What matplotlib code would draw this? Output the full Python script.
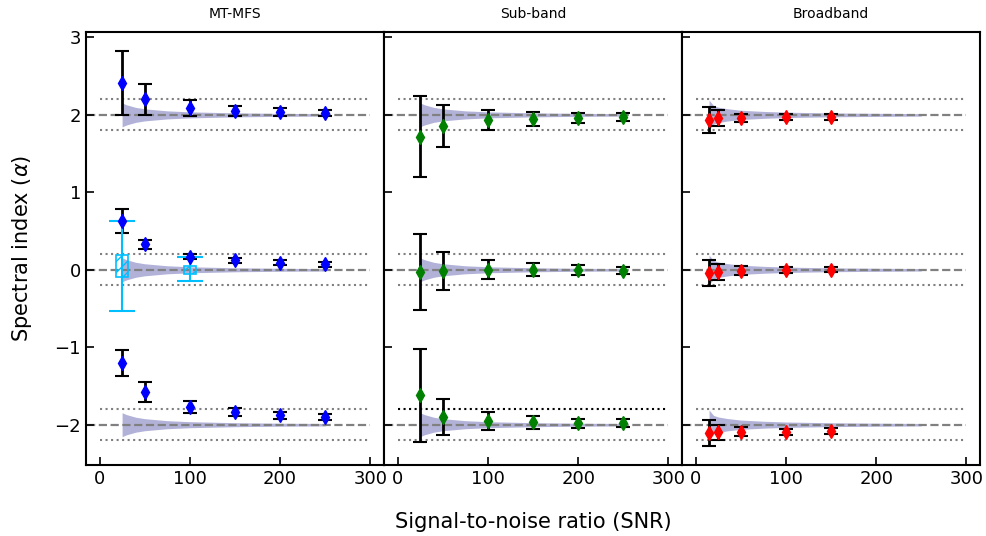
import numpy as np
import matplotlib
matplotlib.use('Agg')
import matplotlib.pyplot as plt

# true spectral indices and tolerance
true_alpha = [2, 0, -2]
tol = 0.2

# MT-MFS
snr_mtmfs = [25, 50, 100, 150, 200, 250]
mtmfs_a2 = [2.41, 2.20, 2.09, 2.05, 2.04, 2.02]
mtmfs_a2_err = [0.41, 0.20, 0.10, 0.07, 0.05, 0.04]
mtmfs_a0 = [0.63, 0.33, 0.17, 0.12, 0.09, 0.07]
mtmfs_a0_err = [0.16, 0.06, 0.03, 0.03, 0.03, 0.03]
mtmfs_am2 = [-1.20, -1.58, -1.77, -1.84, -1.88, -1.90]
mtmfs_am2_err = [0.17, 0.13, 0.08, 0.05, 0.045, 0.04]

# MT-MFS box (alpha = 0)
snr_box = [25, 100]
box_q1 = [-0.09, -0.05]
box_q3 = [0.19, 0.05]
box_lo = [-0.53, -0.14]
box_hi = [0.63, 0.17]

# Sub-band
snr_sub = [25, 50, 100, 150, 200, 250]
sub_a2 = [1.72, 1.86, 1.93, 1.95, 1.96, 1.97]
sub_a2_err = [0.52, 0.27, 0.13, 0.09, 0.07, 0.055]
sub_a0 = [-0.03, -0.01, 0.0, 0.0, 0.0, -0.01]
sub_a0_err = [0.49, 0.245, 0.125, 0.085, 0.065, 0.05]
sub_am2 = [-1.62, -1.90, -1.95, -1.97, -1.98, -1.98]
sub_am2_err = [0.60, 0.235, 0.115, 0.08, 0.06, 0.05]

# Broadband
snr_bb = [15, 25, 50, 100, 150]
bb_a2 = [1.93, 1.955, 1.96, 1.97, 1.97]
bb_a2_err = [0.17, 0.105, 0.055, 0.04, 0.035]
bb_a0 = [-0.04, -0.03, -0.01, 0.0, 0.0]
bb_a0_err = [0.165, 0.10, 0.055, 0.035, 0.03]
bb_am2 = [-2.11, -2.10, -2.09, -2.09, -2.08]
bb_am2_err = [0.17, 0.10, 0.055, 0.04, 0.035]

# expected spread (shaded)
band_snr = [25, 30, 40, 50, 75, 100, 150, 200, 250]
band_w = [0.155, 0.13, 0.097, 0.078, 0.052, 0.039, 0.026, 0.019, 0.016]
band_snr_bb = [15, 20, 25, 35, 50, 75, 100, 150, 200, 250]
band_w_bb = [0.19, 0.12, 0.10, 0.08, 0.06, 0.045, 0.035, 0.025, 0.02, 0.016]

panels = [
    ('MT-MFS', snr_mtmfs, [mtmfs_a2, mtmfs_a0, mtmfs_am2],
     [mtmfs_a2_err, mtmfs_a0_err, mtmfs_am2_err], 'blue', band_snr, band_w),
    ('Sub-band', snr_sub, [sub_a2, sub_a0, sub_am2],
     [sub_a2_err, sub_a0_err, sub_am2_err], 'green', band_snr, band_w),
    ('Broadband', snr_bb, [bb_a2, bb_a0, bb_am2],
     [bb_a2_err, bb_a0_err, bb_am2_err], 'red', band_snr_bb, band_w_bb),
]

fig, axes = plt.subplots(1, 3, figsize=(9.87, 5.36), dpi=100, sharey=True)
fig.subplots_adjust(left=0.0871, right=0.9929, top=0.9403, bottom=0.1325, wspace=0)

for i, (ax, (title, snr, vals, errs, col, bsnr, bw)) in enumerate(zip(axes, panels)):
    bsnr = np.array(bsnr)
    bw = np.array(bw)
    for a in true_alpha:
        ax.fill_between(bsnr, a - bw, a + bw, color='navy', alpha=0.3, lw=0, zorder=1)
        ax.hlines(a, -14, 300, colors='gray', linestyles='--', lw=1.6, zorder=1.5)
        for s in (-1, 1):
            c = 'k' if (i == 1 and a == -2 and s == 1) else 'gray'
            ax.hlines(a + s * tol, 0, 300, colors=c, linestyles=':', lw=1.5, zorder=1.5)
    for v, e in zip(vals, errs):
        ax.errorbar(snr, v, yerr=e, fmt='none', ecolor='k', elinewidth=2,
                    capsize=5, capthick=1.5, zorder=2)
        ax.plot(snr, v, 'd', color=col, ms=7, zorder=4)
    if i == 0:
        q1 = np.array(box_q1)
        q3 = np.array(box_q3)
        mid = (q1 + q3) / 2
        ax.errorbar(snr_box, mid, yerr=[mid - np.array(box_lo), np.array(box_hi) - mid],
                    fmt='none', ecolor='deepskyblue', elinewidth=1.5, capsize=9.5,
                    capthick=1.5, zorder=3)
        ax.bar(snr_box, q3 - q1, bottom=q1, width=13, fill=False,
               edgecolor='deepskyblue', hatch='///', lw=1.2, zorder=3)
    ax.set_title(title, fontsize=10, pad=10)
    ax.set_xlim(-15, 315)
    ax.set_ylim(-2.52, 3.07)
    ax.set_xticks([0, 100, 200, 300])
    ax.set_yticks([-2, -1, 0, 1, 2, 3])
    ax.tick_params(direction='in', labelsize=13, length=6, width=1.2)
    for sp in ax.spines.values():
        sp.set_linewidth(1.5)

fig.text(0.5406, 0.026, 'Signal-to-noise ratio (SNR)', ha='center', va='center', fontsize=15)
fig.text(0.022, 0.536, r'Spectral index ($\alpha$)', ha='center', va='center',
         rotation=90, fontsize=15)

fig.savefig('out.png')
